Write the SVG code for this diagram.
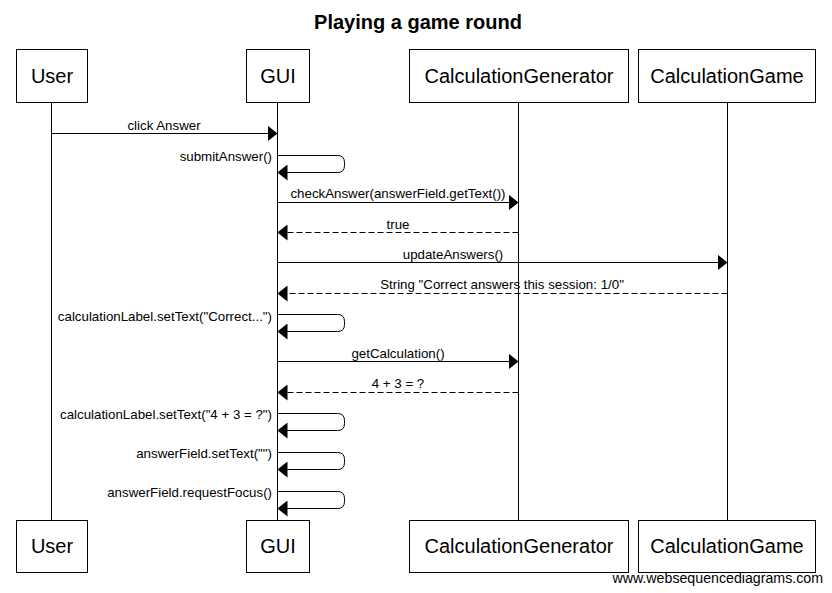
<svg xmlns="http://www.w3.org/2000/svg" width="832" height="593" viewBox="0 0 832 593">
<style>
.box{fill:#fff;stroke:#000;stroke-width:1}
.bt{font-family:"Liberation Sans",Arial,sans-serif;font-size:20px;text-anchor:middle}
.lbl{font-family:"Liberation Sans",Arial,sans-serif;font-size:13.3px}
.c{text-anchor:middle}
.r{text-anchor:end}
.life{stroke:#000;stroke-width:1}
.msg{stroke:#000;stroke-width:1;fill:none}
.dash{stroke-dasharray:6,3}
</style>
<defs>
<marker id="ah" markerWidth="10" markerHeight="16" refX="10" refY="8" orient="auto" markerUnits="userSpaceOnUse">
<path d="M0,0 L10,8 L0,16 Z" fill="#000"/>
</marker>
</defs>
<rect width="832" height="593" fill="#fff"/>
<text x="418" y="29" font-family="Liberation Sans,Arial,sans-serif" font-size="20" font-weight="bold" text-anchor="middle">Playing a game round</text>
<g id="lifelines">
<line class="life" x1="51.5" y1="102" x2="51.5" y2="520"/>
<line class="life" x1="277.5" y1="102" x2="277.5" y2="520"/>
<line class="life" x1="518.5" y1="102" x2="518.5" y2="520"/>
<line class="life" x1="727.5" y1="102" x2="727.5" y2="520"/>
</g>
<g id="User">
<rect class="box" x="16.5" y="49.5" width="71" height="53"/>
<text class="bt" x="52" y="83">User</text>
<rect class="box" x="16.5" y="520.5" width="71" height="52"/>
<text class="bt" x="52" y="553">User</text>
</g>
<g id="GUI">
<rect class="box" x="246.5" y="49.5" width="63" height="53"/>
<text class="bt" x="278" y="83">GUI</text>
<rect class="box" x="246.5" y="520.5" width="63" height="52"/>
<text class="bt" x="278" y="553">GUI</text>
</g>
<g id="CalculationGenerator">
<rect class="box" x="409.5" y="49.5" width="219" height="53"/>
<text class="bt" x="519" y="83">CalculationGenerator</text>
<rect class="box" x="409.5" y="520.5" width="219" height="52"/>
<text class="bt" x="519" y="553">CalculationGenerator</text>
</g>
<g id="CalculationGame">
<rect class="box" x="638.5" y="49.5" width="177" height="53"/>
<text class="bt" x="727" y="83">CalculationGame</text>
<rect class="box" x="638.5" y="520.5" width="177" height="52"/>
<text class="bt" x="727" y="553">CalculationGame</text>
</g>
<g id="connectors">
<line class="msg" x1="51.5" y1="133.5" x2="277.5" y2="133.5" marker-end="url(#ah)"/>
<path class="msg" d="M277.5,155.5 H337.5 Q344.5,155.5 344.5,162.5 V165.5 Q344.5,172.5 337.5,172.5 H277.5" marker-end="url(#ah)"/>
<line class="msg" x1="277.5" y1="202.5" x2="518.5" y2="202.5" marker-end="url(#ah)"/>
<line class="msg dash" x1="518.5" y1="232.5" x2="277.5" y2="232.5" marker-end="url(#ah)"/>
<line class="msg" x1="277.5" y1="262.5" x2="727.5" y2="262.5" marker-end="url(#ah)"/>
<line class="msg dash" x1="727.5" y1="293.5" x2="277.5" y2="293.5" marker-end="url(#ah)"/>
<path class="msg" d="M277.5,314.5 H337.5 Q344.5,314.5 344.5,321.5 V324.5 Q344.5,331.5 337.5,331.5 H277.5" marker-end="url(#ah)"/>
<line class="msg" x1="277.5" y1="361.5" x2="518.5" y2="361.5" marker-end="url(#ah)"/>
<line class="msg dash" x1="518.5" y1="392.5" x2="277.5" y2="392.5" marker-end="url(#ah)"/>
<path class="msg" d="M277.5,413.5 H337.5 Q344.5,413.5 344.5,420.5 V423.5 Q344.5,430.5 337.5,430.5 H277.5" marker-end="url(#ah)"/>
<path class="msg" d="M277.5,452.5 H337.5 Q344.5,452.5 344.5,459.5 V462.5 Q344.5,469.5 337.5,469.5 H277.5" marker-end="url(#ah)"/>
<path class="msg" d="M277.5,491.5 H337.5 Q344.5,491.5 344.5,498.5 V501.5 Q344.5,508.5 337.5,508.5 H277.5" marker-end="url(#ah)"/>
</g>
<g id="labels">
<text class="lbl c" x="164" y="130">click Answer</text>
<text class="lbl r" x="272" y="161">submitAnswer()</text>
<text class="lbl c" x="398" y="198">checkAnswer(answerField.getText())</text>
<text class="lbl c" x="398" y="229">true</text>
<text class="lbl c" x="453" y="259">updateAnswers()</text>
<text class="lbl c" x="502" y="289">String "Correct answers this session: 1/0"</text>
<text class="lbl r" x="272" y="321">calculationLabel.setText("Correct...")</text>
<text class="lbl c" x="398" y="358">getCalculation()</text>
<text class="lbl c" x="398" y="388">4 + 3 = ?</text>
<text class="lbl r" x="272" y="419">calculationLabel.setText("4 + 3 = ?")</text>
<text class="lbl r" x="272" y="458">answerField.setText("")</text>
<text class="lbl r" x="272" y="497">answerField.requestFocus()</text>
</g>
<text x="823" y="583" font-family="Liberation Sans,Arial,sans-serif" font-size="14.2" text-anchor="end">www.websequencediagrams.com</text>
</svg>
